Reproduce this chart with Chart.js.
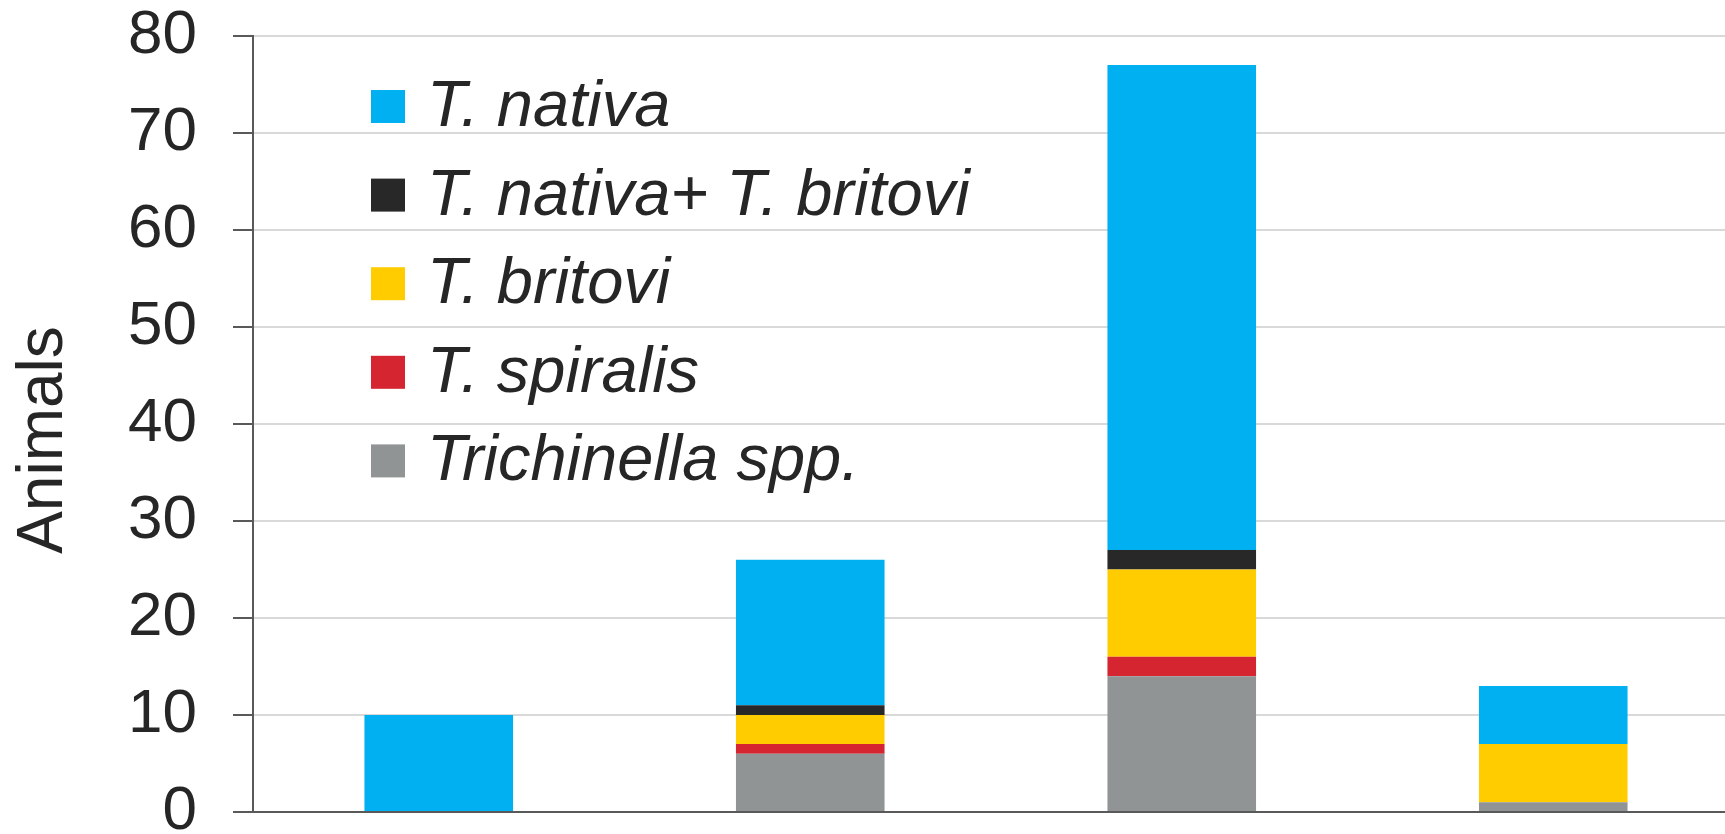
<!DOCTYPE html>
<html>
<head>
<meta charset="utf-8">
<title>Trichinella species by group</title>
<script src="https://cdn.jsdelivr.net/npm/chart.js@4.4.1/dist/chart.umd.min.js"></script>
<style>
  html, body { margin: 0; padding: 0; background: #ffffff; overflow: hidden; }
  #chart { display: block; }
</style>
</head>
<body>
<!-- the plot runs a little past the right edge of the picture, so the canvas is a bit wider than the window -->
<canvas id="chart" width="1739" height="834"></canvas>
<script>
// groups along the x axis (no labels are printed in the figure)
const categories = ["1", "2", "3", "4"];

// stacked from the bottom up
const trichinellaSpp = [0, 6, 14, 1];
const tSpiralis = [0, 1, 2, 0];
const tBritovi = [0, 3, 9, 6];
const tNativaBritovi = [0, 1, 2, 0];
const tNativa = [10, 15, 50, 6];

const yTicks = [0, 10, 20, 30, 40, 50, 60, 70, 80];
const yTitle = "Animals";

const textColor = "#262626";
const axisColor = "#595959";
const fontFamily = '"Liberation Sans", Arial, Helvetica, sans-serif';

// legend inside the plot area (top-left, top series first) and the y title,
// which sits a little below the middle of the axis in the original
const extras = {
  id: "extras",
  afterDraw(chart) {
    const ctx = chart.ctx;
    const area = chart.chartArea;
    const items = chart.data.datasets.slice().reverse();
    ctx.save();
    ctx.font = "italic 65px " + fontFamily;
    ctx.textAlign = "left";
    ctx.textBaseline = "alphabetic";
    items.forEach((ds, i) => {
      const cy = area.top + 70 + i * 88.6;
      ctx.fillStyle = ds.backgroundColor;
      ctx.fillRect(area.left + 118, cy - 16, 34, 33);
      ctx.fillStyle = textColor;
      ctx.fillText(ds.label, area.left + 174, cy + 20);
    });
    ctx.restore();

    ctx.save();
    ctx.font = "64px " + fontFamily;
    ctx.fillStyle = textColor;
    ctx.textAlign = "center";
    ctx.textBaseline = "alphabetic";
    ctx.translate(62, (area.top + area.bottom) / 2 + 16);
    ctx.rotate(-Math.PI / 2);
    ctx.fillText(yTitle, 0, 0);
    ctx.restore();
  },
};

new Chart(document.getElementById("chart"), {
  type: "bar",
  data: {
    labels: categories,
    datasets: [
      { label: "Trichinella spp.", data: trichinellaSpp, backgroundColor: "#919494" },
      { label: "T. spiralis", data: tSpiralis, backgroundColor: "#D42530" },
      { label: "T. britovi", data: tBritovi, backgroundColor: "#FFCC00" },
      { label: "T. nativa+ T. britovi", data: tNativaBritovi, backgroundColor: "#282828" },
      { label: "T. nativa", data: tNativa, backgroundColor: "#00B0F0" },
    ],
  },
  options: {
    responsive: false,
    animation: false,
    devicePixelRatio: 1,
    layout: { padding: { top: 36, bottom: 22, left: 0, right: 0 } },
    datasets: {
      bar: { categoryPercentage: 1, barPercentage: 0.4, borderWidth: 0 },
    },
    plugins: {
      legend: { display: false },
      tooltip: { enabled: false },
    },
    scales: {
      x: {
        stacked: true,
        grid: { display: false },
        border: { display: true, color: axisColor, width: 2 },
        ticks: { display: false },
        afterFit(scale) {
          scale.height = 0;
        },
      },
      y: {
        stacked: true,
        min: 0,
        max: 80,
        afterBuildTicks(scale) {
          scale.ticks = yTicks.map((v) => ({ value: v }));
        },
        grid: {
          color: "#d9d9d9",
          lineWidth: 2,
          tickLength: 20,
          tickColor: axisColor,
          tickWidth: 2,
        },
        border: { display: true, color: axisColor, width: 2 },
        ticks: {
          padding: 36,
          color: textColor,
          font: { family: fontFamily, size: 62 },
        },
        title: { display: false },
        afterFit(scale) {
          scale.width = 253;
          scale.paddingTop = 0;
          scale.paddingBottom = 0;
        },
      },
    },
  },
  plugins: [extras],
});
</script>
</body>
</html>
